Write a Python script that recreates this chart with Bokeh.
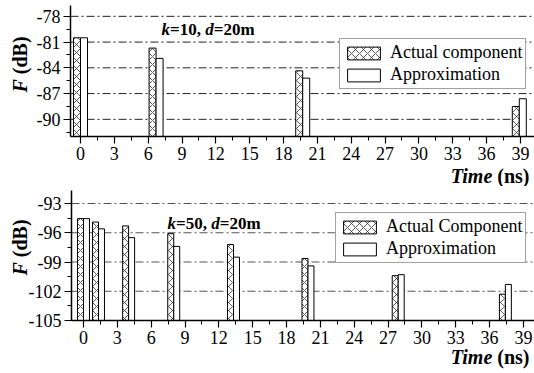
import math
from bokeh.plotting import figure
from bokeh.layouts import column
from bokeh.models import (Range1d, SingleIntervalTicker, Label, Legend, LegendItem,
                          ColumnDataSource)
from bokeh.transform import dodge
from bokeh.embed import file_html
from bokeh.resources import INLINE

# ---------------- data ----------------
top_time = [0.0, 6.7, 19.7, 38.9]
top_actual = [-80.5, -81.7, -84.35, -88.5]
top_approx = [-80.5, -82.9, -85.2, -87.6]

bot_time = [0.0, 1.33, 4.0, 8.0, 13.3, 19.9, 27.9, 37.4]
bot_actual = [-94.55, -94.9, -95.3, -96.1, -97.2, -98.64, -100.4, -102.3]
bot_approx = [-94.55, -95.6, -96.5, -97.4, -98.5, -99.4, -100.3, -101.3]

x_ticks = [0, 3, 6, 9, 12, 15, 18, 21, 24, 27, 30, 33, 36, 39]
top_y_ticks = [-90, -87, -84, -81, -78]
bot_y_ticks = [-105, -102, -99, -96, -93]

legend_top = ["Actual component", "Approximation"]
legend_bot = ["Actual Component", "Approximation"]
note_top = ["k", "=10, ", "d", "=20m"]
note_bot = ["k", "=50, ", "d", "=20m"]
x_label = ["Time", "(ns)"]
y_label = ["F", "(dB)"]

SERIF = "Liberation Serif, Times New Roman, Times, serif"
FIG_W = 534


def make_panel(times, actual, approx, y_ticks, fig_h, x0_px, y_axis_px, x_axis_py,
               xs_px, y_base, ys_px, y_top_py, bar_w, legend_labels, legend_left,
               legend_bottom, note, note_x, note_y, ylab_start, time_y, grid_color):
    # pixel -> data helpers (canvas pixels)
    def X(px):
        return (px - x0_px) / xs_px

    def Y(py):
        return y_base + (x_axis_py - py) / ys_px

    p = figure(width=FIG_W, height=fig_h, output_backend="svg", toolbar_location=None,
               x_range=Range1d(X(0), X(FIG_W)), y_range=Range1d(Y(fig_h), Y(0)),
               min_border_left=0, min_border_right=0, min_border_top=0,
               min_border_bottom=0)
    p.outline_line_color = None
    p.background_fill_color = "white"
    p.border_fill_color = "white"

    y_axis_x = X(y_axis_px)
    x_end = X(FIG_W)
    y_top = Y(y_top_py)

    # grid lines (dash-dot) at the major y ticks
    p.xgrid.visible = False
    p.ygrid.visible = False
    p.segment(x0=[y_axis_x] * len(y_ticks), x1=[x_end] * len(y_ticks), y0=y_ticks,
              y1=y_ticks, line_color=grid_color, line_width=1, line_dash="8 3 2 3")

    src = ColumnDataSource(dict(t=times, actual=actual, approx=approx))
    r1 = p.vbar(x=dodge("t", -bar_w / 2), top="actual", bottom=y_base, width=bar_w,
                source=src, fill_color="white", line_color="black", line_width=1,
                hatch_pattern="diagonal_cross", hatch_scale=8, hatch_weight=0.8,
                hatch_color="#333333")
    r2 = p.vbar(x=dodge("t", bar_w / 2), top="approx", bottom=y_base, width=bar_w,
                source=src, fill_color="white", line_color="black", line_width=1)

    # axes, drawn at fixed data locations
    xa, ya = p.xaxis[0], p.yaxis[0]
    xa.fixed_location = y_base
    xa.bounds = (y_axis_x, x_end)
    ya.fixed_location = y_axis_x
    ya.bounds = (y_base, y_top)
    xa.major_label_overrides = {t: str(t) for t in x_ticks}
    ya.major_label_overrides = {t: str(t) for t in y_ticks}
    for ax in (xa, ya):
        ax.axis_line_color = "black"
        ax.axis_line_width = 1.5
        ax.major_tick_line_color = "black"
        ax.minor_tick_line_color = "black"
        ax.major_tick_line_width = 1.2
        ax.minor_tick_line_width = 1
        ax.major_tick_in = 0
        ax.minor_tick_in = 0
        ax.major_tick_out = 7
        ax.minor_tick_out = 4
        ax.major_label_text_font = SERIF
        ax.major_label_text_font_size = "18px"
        ax.major_label_text_color = "black"
        ax.major_label_standoff = 3
        ax.ticker = SingleIntervalTicker(interval=3, num_minor_ticks=2)

    # legend
    leg = Legend(items=[LegendItem(label=legend_labels[0], renderers=[r1]),
                        LegendItem(label=legend_labels[1], renderers=[r2])],
                 location=(legend_left, fig_h - legend_bottom))
    leg.label_text_font = SERIF
    leg.label_text_font_size = "18px"
    leg.label_text_color = "black"
    leg.glyph_width = 41
    leg.glyph_height = 16
    leg.label_standoff = 6
    leg.padding = 3
    leg.spacing = 1
    leg.border_line_color = "#444444"
    leg.border_line_width = 1
    leg.background_fill_color = "white"
    leg.background_fill_alpha = 1.0
    p.add_layout(leg)

    # note k=.., d=..
    fs = 17
    widths = [0.5, 2.07, 0.5, 0.0]
    styles = ["bold italic", "bold", "bold italic", "bold"]
    xpos = note_x
    for txt, w, st in zip(note, widths, styles):
        p.add_layout(Label(x=X(xpos), y=Y(note_y), text=txt, text_font=SERIF,
                           text_font_size=f"{fs}px", text_font_style=st,
                           text_align="left", text_baseline="middle", text_color="black"))
        xpos += w * fs

    # x axis label (right aligned)
    fsl = 20
    right = 529
    p.add_layout(Label(x=X(right), y=Y(time_y), text=x_label[1], text_font=SERIF,
                       text_font_size=f"{fsl}px", text_font_style="bold",
                       text_align="right", text_baseline="middle", text_color="black"))
    p.add_layout(Label(x=X(right - 1.861 * fsl), y=Y(time_y), text=x_label[0],
                       text_font=SERIF, text_font_size=f"{fsl}px",
                       text_font_style="bold italic", text_align="right",
                       text_baseline="middle", text_color="black"))
    # y axis label (rotated)
    p.add_layout(Label(x=X(19), y=Y(ylab_start), text=y_label[0], angle=math.pi / 2,
                       text_font=SERIF, text_font_size=f"{fsl}px",
                       text_font_style="bold italic", text_align="left",
                       text_baseline="middle", text_color="black"))
    p.add_layout(Label(x=X(19), y=Y(ylab_start - 0.917 * fsl), text=y_label[1],
                       angle=math.pi / 2, text_font=SERIF, text_font_size=f"{fsl}px",
                       text_font_style="bold", text_align="left",
                       text_baseline="middle", text_color="black"))
    return p


top = make_panel(top_time, top_actual, top_approx, top_y_ticks, fig_h=186,
                 x0_px=80, y_axis_px=70, x_axis_py=136, xs_px=11.28, y_base=-92.0,
                 ys_px=8.583, y_top_py=5, bar_w=0.62, legend_labels=legend_top,
                 legend_left=339, legend_bottom=89, note=note_top, note_x=161, note_y=29,
                 ylab_start=92, time_y=175, grid_color="#222222")

bot = make_panel(bot_time, bot_actual, bot_approx, bot_y_ticks, fig_h=187,
                 x0_px=83, y_axis_px=71, x_axis_py=134, xs_px=11.28, y_base=-105.0,
                 ys_px=9.75, y_top_py=4, bar_w=0.53, legend_labels=legend_bot,
                 legend_left=335, legend_bottom=77, note=note_bot, note_x=167, note_y=37,
                 ylab_start=89, time_y=170, grid_color="#555555")

layout = column(top, bot, spacing=0)
open("out.html", "w").write(file_html(layout, INLINE))
